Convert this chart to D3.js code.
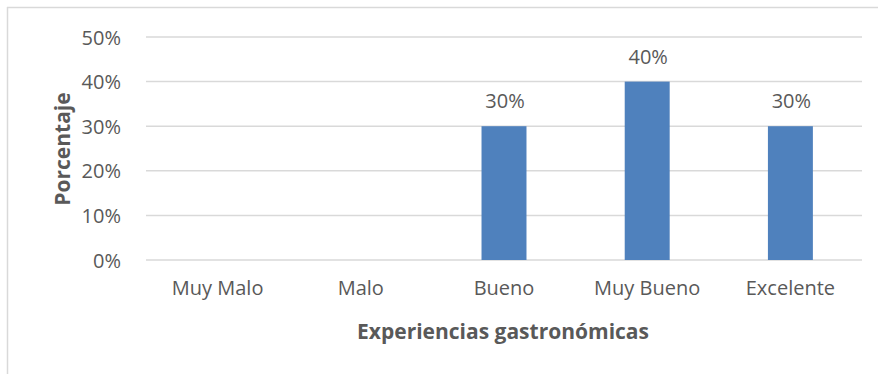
<!DOCTYPE html>
<html>
<head>
<meta charset="utf-8">
<script src="https://cdn.jsdelivr.net/npm/d3@7"></script>
<style>
  html, body { margin: 0; padding: 0; background: #fff; }
  svg { display: block; }
  svg text { font-family: "Open Sans", "Liberation Sans", sans-serif; }
</style>
</head>
<body>
<svg id="chart" width="878" height="374"></svg>
<script>
// Survey results: share of respondents per rating
const categories = ["Muy Malo", "Malo", "Bueno", "Muy Bueno", "Excelente"];
const values = [0, 0, 0.30, 0.40, 0.30];
const yTicks = [0, 0.1, 0.2, 0.3, 0.4, 0.5];
const xTitle = "Experiencias gastronómicas";
const yTitle = "Porcentaje";

const W = 878, H = 374;
const margin = { left: 146, right: 16, top: 37, bottom: 114 };
const textColor = "#595959";
const gridColor = "#d9d9d9";
const barColor = "#4f81bd";
const font = '"Open Sans", "Liberation Sans", sans-serif';

const svg = d3.select("#chart");

// chart frame (top and left edges)
svg.append("line").attr("x1", 7).attr("x2", W).attr("y1", 7.5).attr("y2", 7.5)
  .attr("stroke", gridColor).attr("stroke-width", 1.5);
svg.append("line").attr("x1", 7.5).attr("x2", 7.5).attr("y1", 7).attr("y2", H)
  .attr("stroke", gridColor).attr("stroke-width", 1.5);

const x = d3.scaleBand()
  .domain(categories)
  .range([margin.left, W - margin.right])
  .paddingInner(0.686)
  .paddingOuter(0.343);

const y = d3.scaleLinear()
  .domain([0, 0.5])
  .range([H - margin.bottom, margin.top]);

// horizontal gridlines
svg.append("g")
  .selectAll("line")
  .data(yTicks)
  .join("line")
  .attr("x1", margin.left)
  .attr("x2", W - margin.right)
  .attr("y1", d => y(d))
  .attr("y2", d => y(d))
  .attr("stroke", gridColor)
  .attr("stroke-width", 1.5);

// y axis labels
const yAxis = d3.axisLeft(y)
  .tickValues(yTicks)
  .tickFormat(d3.format(".0%"))
  .tickSize(0)
  .tickPadding(25);
const gy = svg.append("g")
  .attr("transform", `translate(${margin.left},0)`)
  .call(yAxis)
  .attr("font-family", font);
gy.select(".domain").remove();
gy.selectAll("text")
  .attr("fill", textColor)
  .style("font-size", "20px")
  .attr("dy", "0.35em");

// x axis labels
const xAxis = d3.axisBottom(x).tickSize(0).tickPadding(21);
const gx = svg.append("g")
  .attr("transform", `translate(0,${y(0)})`)
  .call(xAxis)
  .attr("font-family", font);
gx.select(".domain").remove();
gx.selectAll("text")
  .attr("fill", textColor)
  .style("font-size", "20px");

// bars
const barData = categories.map((c, i) => ({ c, v: values[i] })).filter(d => d.v > 0);
svg.append("g")
  .selectAll("rect")
  .data(barData)
  .join("rect")
  .attr("x", d => x(d.c))
  .attr("width", x.bandwidth())
  .attr("y", d => y(d.v))
  .attr("height", d => y(0) - y(d.v))
  .attr("fill", barColor);

// value labels
svg.append("g")
  .selectAll("text")
  .data(barData)
  .join("text")
  .attr("x", d => x(d.c) + x.bandwidth() / 2 + 1)
  .attr("y", d => y(d.v) - 18)
  .attr("text-anchor", "middle")
  .attr("fill", textColor)
  .style("font-size", "20px")
  .text(d => d3.format(".0%")(d.v));

// axis titles
svg.append("text")
  .attr("x", 503)
  .attr("y", 339)
  .attr("text-anchor", "middle")
  .attr("fill", textColor)
  .style("font-size", "21px")
  .style("font-weight", "bold")
  .text(xTitle);

svg.append("text")
  .attr("transform", "translate(70,149) rotate(-90)")
  .attr("text-anchor", "middle")
  .attr("fill", textColor)
  .style("font-size", "21px")
  .style("font-weight", "bold")
  .text(yTitle);
</script>
</body>
</html>
